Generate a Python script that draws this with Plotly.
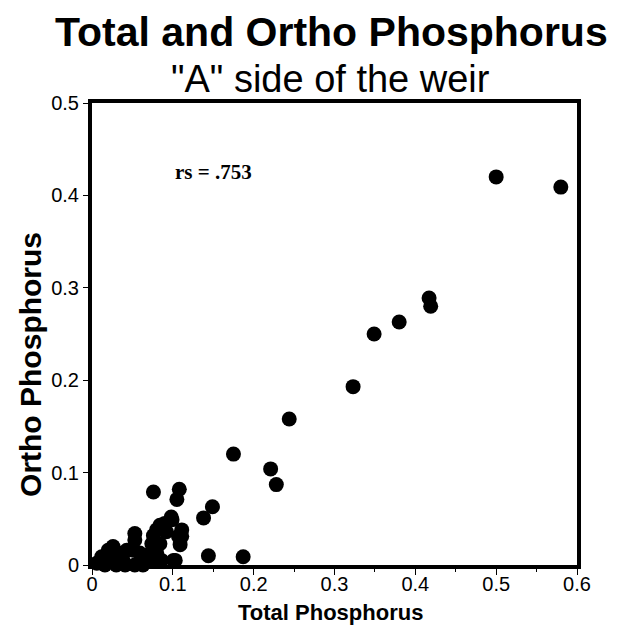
import plotly.graph_objects as go

total_p = [0.500, 0.580, 0.417, 0.419, 0.380, 0.349, 0.323, 0.244, 0.175, 0.221, 0.228,
           0.149, 0.138, 0.144, 0.187, 0.076, 0.108, 0.105, 0.099, 0.086, 0.111, 0.111,
           0.109, 0.103, 0.053, 0.053, 0.006, 0.020, 0.026, 0.012, 0.033, 0.016, 0.030,
           0.041, 0.053, 0.063, 0.043, 0.051, 0.059, 0.070, 0.074, 0.076, 0.080, 0.084,
           0.090, 0.092, 0.084, 0.080, 0.074, 0.086, 0.107, 0.101, 0.028, 0.039, 0.098]
ortho_p = [0.420, 0.409, 0.289, 0.280, 0.263, 0.250, 0.193, 0.158, 0.120, 0.104, 0.087,
           0.063, 0.051, 0.010, 0.009, 0.079, 0.082, 0.071, 0.049, 0.041, 0.038, 0.031,
           0.022, 0.005, 0.034, 0.027, 0.002, 0.016, 0.020, 0.009, 0.013, 0.000, 0.000,
           0.000, 0.000, 0.000, 0.016, 0.016, 0.013, 0.011, 0.023, 0.032, 0.038, 0.043,
           0.045, 0.036, 0.023, 0.013, 0.004, 0.005, 0.031, 0.005, 0.007, 0.004, 0.052]

x_ticks = [0, 0.1, 0.2, 0.3, 0.4, 0.5, 0.6]
x_tick_labels = ["0", "0.1", "0.2", "0.3", "0.4", "0.5", "0.6"]
y_ticks = [0, 0.1, 0.2, 0.3, 0.4, 0.5]
y_tick_labels = ["0", "0.1", "0.2", "0.3", "0.4", "0.5"]

title_text = "Total and Ortho Phosphorus"
subtitle_text = '"A" side of the weir'
x_label = "Total Phosphorus"
y_label = "Ortho Phosphorus"
rs_text = "rs = .753"

SANS = "Liberation Sans, Arial, sans-serif"
SERIF = "Liberation Serif, Times New Roman, serif"

fig = go.Figure()
fig.add_trace(go.Scatter(
    x=total_p, y=ortho_p, mode="markers",
    marker=dict(color="black", size=15, line=dict(width=0)),
    cliponaxis=False, showlegend=False,
))

axis_font = dict(family=SANS, size=20, color="black")

fig.update_layout(
    width=624, height=629,
    margin=dict(l=84, r=55, t=95, b=72, autoexpand=False),
    paper_bgcolor="white", plot_bgcolor="white",
    font=dict(family=SANS, color="black"),
    xaxis=dict(
        range=[0, 0.6], tickvals=x_ticks, ticktext=x_tick_labels,
        showgrid=False, zeroline=False, automargin=False,
        showline=True, linewidth=4, linecolor="black", mirror=True,
        ticks="outside", ticklen=6, tickwidth=1, tickcolor="black",
        ticklabelstandoff=-8,
        minor=dict(ticks="outside", dtick=0.05, ticklen=3, tickwidth=1, tickcolor="black", showgrid=False),
        tickfont=axis_font,
    ),
    yaxis=dict(
        range=[0, 0.5], tickvals=y_ticks, ticktext=y_tick_labels,
        showgrid=False, zeroline=False, automargin=False,
        showline=True, linewidth=4, linecolor="black", mirror=True,
        ticks="outside", ticklen=5, tickwidth=1, tickcolor="black",
        tickfont=axis_font,
    ),
    annotations=[
        dict(text="<b>" + title_text + "</b>", xref="paper", yref="paper", x=0.493, y=1,
             xanchor="center", yanchor="middle", yshift=71, showarrow=False,
             font=dict(family=SANS, size=41, color="black")),
        dict(text=subtitle_text, xref="paper", yref="paper", x=0.491, y=1,
             xanchor="center", yanchor="middle", yshift=24, showarrow=False,
             font=dict(family=SANS, size=38, color="black")),
        dict(text="<b>" + x_label + "</b>", xref="paper", yref="paper", x=0.491, y=0,
             xanchor="center", yanchor="middle", yshift=-47, showarrow=False,
             font=dict(family=SANS, size=22, color="black")),
        dict(text="<b>" + y_label + "</b>", xref="paper", yref="paper", x=0, y=0.433,
             xanchor="center", yanchor="middle", xshift=-61, textangle=-90, showarrow=False,
             font=dict(family=SANS, size=30, color="black")),
        dict(text="<b>" + rs_text + "</b>", xref="x", yref="y", x=0.150, y=0.425,
             xanchor="center", yanchor="middle", showarrow=False,
             font=dict(family=SERIF, size=21, color="black")),
    ],
)

fig.write_html("out.html")
